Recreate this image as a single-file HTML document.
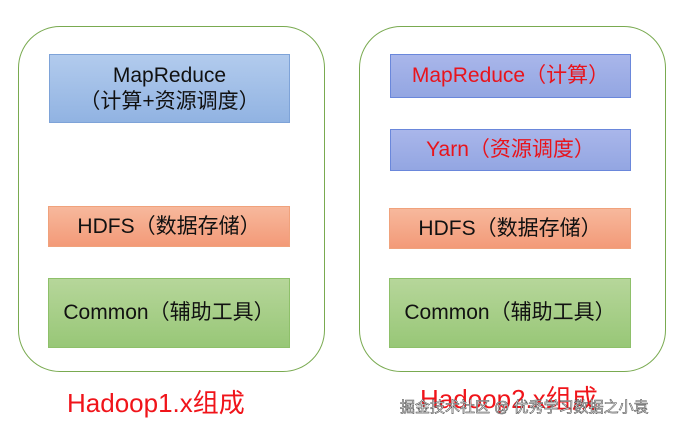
<!DOCTYPE html>
<html><head><meta charset="utf-8"><style>
body{margin:0;width:675px;height:428px;background:#fff;position:relative;overflow:hidden;font-family:"Liberation Sans","Noto Sans CJK SC",sans-serif}
.o{position:absolute;border:1.5px solid #79aa50;border-radius:42px;box-sizing:border-box}
.b{position:absolute;box-sizing:border-box;display:flex;align-items:center;justify-content:center;text-align:center;font-size:21px;color:#111;line-height:26px;white-space:nowrap}
.bl{background:linear-gradient(#b2cbed,#91b3e2);border:1px solid #7ea3d8}
.bp{background:linear-gradient(#a9b6ea,#93a6e2);border:1.5px solid #6a87db;color:#e8141c}
.or{background:linear-gradient(#f7b89c,#f39a78);border:1px solid #f0a27c}
.gr{background:linear-gradient(#b6d69a,#98c777);border:1px solid #8ec06a}
.t{position:absolute;color:#f0141a;font-size:26px}
</style></head><body>
<div class="o" style="left:18px;top:26px;width:307px;height:346px"></div>
<div class="b bl" style="left:49px;top:54px;width:241px;height:69px">MapReduce<br>（计算+资源调度）</div>
<div class="b or" style="left:48px;top:206px;width:242px;height:41px">HDFS（数据存储）</div>
<div class="b gr" style="left:48px;top:278px;width:242px;height:70px">Common（辅助工具）</div>
<div class="t" style="left:67px;top:383px">Hadoop1.x组成</div>

<div class="o" style="left:359px;top:26px;width:307px;height:346px"></div>
<div class="b bp" style="left:390px;top:54px;width:241px;height:44px">MapReduce（计算）</div>
<div class="b bp" style="left:390px;top:129px;width:241px;height:42px">Yarn（资源调度）</div>
<div class="b or" style="left:389px;top:208px;width:242px;height:41px">HDFS（数据存储）</div>
<div class="b gr" style="left:389px;top:278px;width:242px;height:70px">Common（辅助工具）</div>
<div class="t" style="left:420px;top:379px">Hadoop2.x组成</div>
<div style="position:absolute;left:400px;top:396px;font-size:15px;color:#fff;-webkit-text-stroke:0.6px #555;white-space:nowrap">掘金技术社区 @ 优秀学习数据之小袁</div>
</body></html>
